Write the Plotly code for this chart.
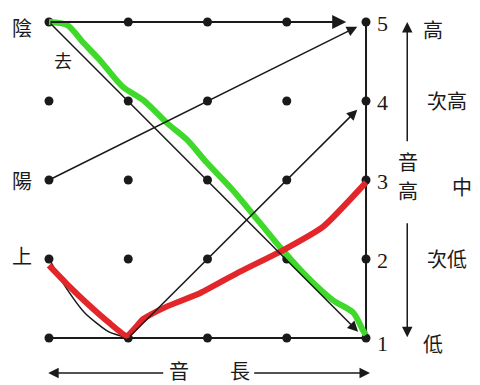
import plotly.graph_objects as go

# 格子（音長 0-4, 音高 1-5）
cols = [0, 1, 2, 3, 4]
levels = [1, 2, 3, 4, 5]
level_names = ["低", "次低", "中", "次高", "高"]

# 調型（黒線）: 起点 -> 終点
yinping = {"x": [0, 3.75], "y": [5, 5]}
yangping = {"x": [0, 3.89], "y": [3, 4.94]}
qusheng = {"x": [0, 3.9], "y": [5, 1.08]}
shang_x = [0, 0.2, 0.45, 0.75, 1.0, 3.89]
shang_y = [2, 1.66, 1.32, 1.08, 1.0, 3.89]

# 手描きの曲線
green_x = [0, 0.23, 0.44, 0.64, 0.93, 1.19, 1.49, 1.74, 1.99, 2.32, 2.66, 2.95, 3.26, 3.58, 3.84, 3.96, 4.0]
green_y = [5, 4.96, 4.73, 4.52, 4.18, 4.01, 3.72, 3.51, 3.22, 2.87, 2.46, 2.11, 1.77, 1.48, 1.32, 1.10, 1.04]
red_x = [0, 0.25, 0.5, 0.75, 0.98, 1.19, 1.49, 1.91, 2.41, 2.95, 3.46, 4.0]
red_y = [1.92, 1.66, 1.42, 1.2, 1.03, 1.24, 1.4, 1.57, 1.84, 2.11, 2.41, 2.97]

INK = "#1a1a1a"
CJK = "Noto Sans CJK TC"
SERIF = "Liberation Serif"

fig = go.Figure()

# 枠線（下辺・右辺）
fig.add_trace(go.Scatter(x=[0, 4, 4], y=[1, 1, 5], mode="lines",
                         line=dict(color=INK, width=2), hoverinfo="skip"))

# 格子点
gx = [c for c in cols for _ in levels]
gy = [l for _ in cols for l in levels]
fig.add_trace(go.Scatter(x=gx, y=gy, mode="markers",
                         marker=dict(color=INK, size=9), hoverinfo="skip"))

# 上声の曲がった部分
fig.add_trace(go.Scatter(x=shang_x[:5], y=shang_y[:5], mode="lines", line_shape="spline",
                         line=dict(color=INK, width=1.5, smoothing=0.6), hoverinfo="skip"))

# 手描き曲線
fig.add_trace(go.Scatter(x=green_x, y=green_y, mode="lines", line_shape="spline",
                         line=dict(color="#3fd92b", width=6, smoothing=0.8), hoverinfo="skip"))
fig.add_trace(go.Scatter(x=red_x, y=red_y, mode="lines", line_shape="spline",
                         line=dict(color="#e3262a", width=6, smoothing=0.5), hoverinfo="skip"))


def arrow(x0, y0, x1, y1, width=1.5):
    fig.add_annotation(x=x1, y=y1, ax=x0, ay=y0, xref="x", yref="y", axref="x", ayref="y",
                       text="", showarrow=True, arrowhead=2, arrowsize=1.4,
                       arrowwidth=width, arrowcolor=INK, standoff=0)


arrow(yinping["x"][0], yinping["y"][0], yinping["x"][1], yinping["y"][1], 2)
arrow(yangping["x"][0], yangping["y"][0], yangping["x"][1], yangping["y"][1])
arrow(qusheng["x"][0], qusheng["y"][0], qusheng["x"][1], qusheng["y"][1])
arrow(shang_x[4], shang_y[4], shang_x[5], shang_y[5])

# 右側の音高矢印
arrow(4.52, 3.47, 4.52, 5.0)
arrow(4.52, 2.47, 4.52, 1.01)
# 下の音長矢印
arrow(1.46, 0.557, -0.01, 0.557)
arrow(2.57, 0.557, 4.05, 0.557)


def label(x, y, text, size=20, font=CJK):
    fig.add_annotation(x=x, y=y, xref="x", yref="y", text=text, showarrow=False,
                       font=dict(family=font, size=size, color=INK))


# 調名
label(-0.34, 4.93, "陰")
label(0.18, 4.52, "去", 18)
label(-0.34, 2.99, "陽")
label(-0.34, 2.05, "上")

# 数字
for l in levels:
    label(4.21, l - 0.02 if l > 1 else l - 0.07, str(l), 22, SERIF)

# 音高の名前
name_x = [4.85, 5.02, 5.21, 5.02, 4.85]
name_y = [0.93, 2.0, 2.92, 4.0, 4.9]
for nx, ny, nm in zip(name_x, name_y, level_names):
    label(nx, ny, nm)

label(4.53, 3.23, "音")
label(4.53, 2.87, "高")
label(1.64, 0.585, "音")
label(2.41, 0.585, "長")

# ページ余白 8px を差し引いた大きさ
fig.update_layout(
    width=472, height=377,
    margin=dict(l=0, r=0, t=0, b=0),
    paper_bgcolor="white", plot_bgcolor="white",
    showlegend=False,
    xaxis=dict(range=[-0.517, 5.438], visible=False, fixedrange=True),
    yaxis=dict(range=[0.405, 5.177], visible=False, fixedrange=True),
)

fig.write_html("out.html")
